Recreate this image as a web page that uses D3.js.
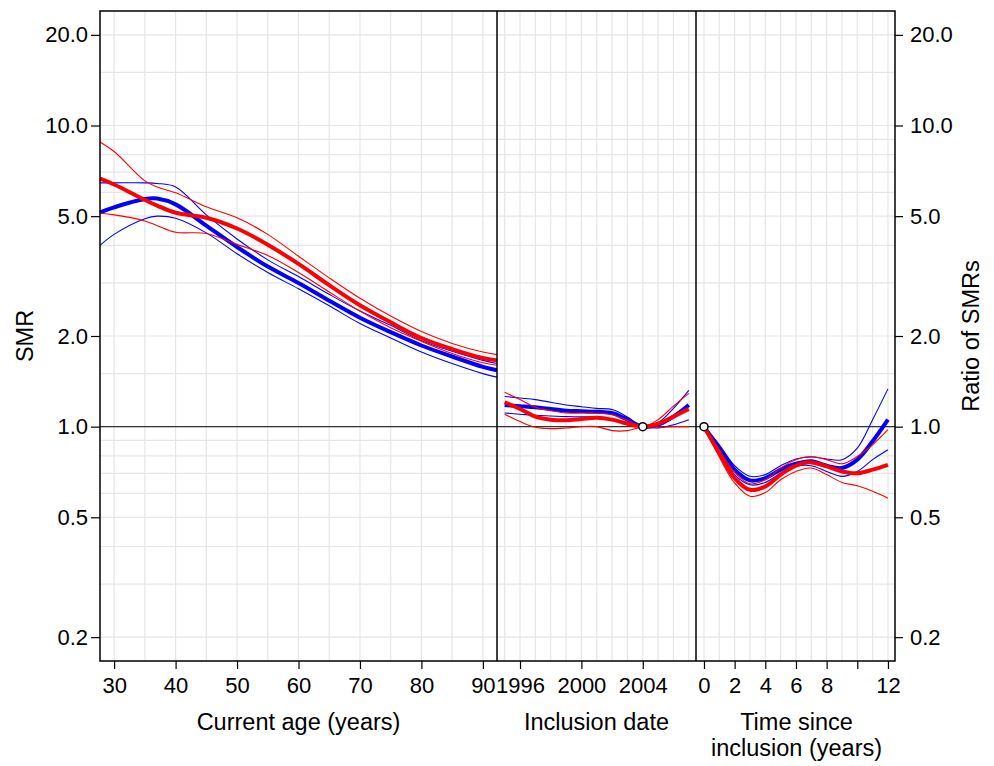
<!DOCTYPE html>
<html>
<head>
<meta charset="utf-8">
<script src="https://cdn.jsdelivr.net/npm/d3@7"></script>
<style>
  body { margin: 0; background: #fff; }
  svg text { font-family: "Liberation Sans", Arial, Helvetica, sans-serif; fill: #000; }
</style>
</head>
<body>
<div id="chart"></div>
<script>
// ---- DATA ----

// panel 1: current age
const ages        = [27.7, 30, 35, 37, 40, 45, 50, 55, 60, 65, 70, 75, 80, 85, 90, 92.3];
const ageBlueEst  = [5.15, 5.35, 5.70, 5.72, 5.47, 4.65, 3.95, 3.40, 3.00, 2.62, 2.30, 2.06, 1.86, 1.71, 1.58, 1.54];
const ageBlueHi   = [6.45, 6.45, 6.45, 6.42, 6.25, 5.05, 4.20, 3.58, 3.15, 2.75, 2.42, 2.17, 1.93, 1.78, 1.66, 1.62];
const ageBlueLo   = [4.00, 4.35, 4.90, 5.00, 4.92, 4.40, 3.75, 3.25, 2.87, 2.52, 2.20, 1.97, 1.77, 1.62, 1.50, 1.46];
const ageRedEst   = [6.66, 6.37, 5.66, 5.42, 5.13, 4.94, 4.55, 4.02, 3.47, 2.95, 2.53, 2.22, 1.97, 1.81, 1.69, 1.66];
const ageRedHi    = [8.82, 8.20, 6.55, 6.25, 5.98, 5.37, 4.94, 4.35, 3.68, 3.12, 2.67, 2.33, 2.07, 1.89, 1.77, 1.735];
const ageRedLo    = [5.11, 5.05, 4.82, 4.65, 4.42, 4.38, 4.03, 3.70, 3.25, 2.80, 2.42, 2.13, 1.92, 1.75, 1.63, 1.60];

// panel 2: inclusion date (reference year 2004)
const years        = [1995, 1996, 1997, 1998, 1999, 2000, 2001, 2002, 2003, 2004, 2005, 2006, 2007];
const dateBlueEst  = [1.18, 1.17, 1.16, 1.145, 1.13, 1.125, 1.12, 1.11, 1.055, 1.0, 1.015, 1.08, 1.18];
const dateBlueHi   = [1.26, 1.245, 1.23, 1.205, 1.18, 1.165, 1.15, 1.14, 1.077, 1.0, 1.03, 1.15, 1.32];
const dateBlueLo   = [1.11, 1.10, 1.09, 1.085, 1.08, 1.078, 1.077, 1.06, 1.03, 1.0, 0.99, 1.015, 1.055];
const dateRedEst   = [1.205, 1.145, 1.08, 1.055, 1.05, 1.06, 1.07, 1.055, 1.023, 1.0, 1.023, 1.08, 1.145];
const dateRedHi    = [1.30, 1.23, 1.16, 1.13, 1.11, 1.11, 1.11, 1.095, 1.05, 1.0, 1.055, 1.17, 1.29];
const dateRedLo    = [1.10, 1.04, 0.995, 0.985, 0.99, 1.0, 1.0, 0.97, 0.97, 1.0, 0.995, 1.0, 1.0];

// panel 3: time since inclusion (reference 0)
const times        = [0, 1, 2, 3, 4, 5, 6, 7, 8, 9, 10, 11, 12];
const timeBlueEst  = [1.0, 0.849, 0.72, 0.663, 0.675, 0.72, 0.753, 0.767, 0.742, 0.729, 0.777, 0.894, 1.055];
const timeBlueHi   = [1.0, 0.871, 0.742, 0.684, 0.693, 0.742, 0.781, 0.793, 0.781, 0.777, 0.849, 1.055, 1.335];
const timeBlueLo   = [1.0, 0.834, 0.693, 0.641, 0.653, 0.70, 0.738, 0.742, 0.71, 0.684, 0.71, 0.777, 0.838];
const timeRedEst   = [1.0, 0.818, 0.675, 0.617, 0.633, 0.693, 0.742, 0.761, 0.738, 0.71, 0.70, 0.72, 0.747];
const timeRedHi    = [1.0, 0.838, 0.705, 0.646, 0.666, 0.729, 0.777, 0.796, 0.777, 0.753, 0.796, 0.871, 0.977];
const timeRedLo    = [1.0, 0.793, 0.65, 0.587, 0.604, 0.666, 0.71, 0.729, 0.693, 0.653, 0.636, 0.61, 0.579];

// axes
const yTicks     = [0.2, 0.5, 1, 2, 5, 10, 20];
const yGrid      = [0.2, 0.3, 0.4, 0.5, 0.6, 0.7, 0.8, 0.9, 1, 1.5, 2, 3, 4, 5, 6, 7, 8, 9, 10, 15, 20];
const ageTicks   = [30, 40, 50, 60, 70, 80, 90];
const ageGrid    = [30, 35, 40, 45, 50, 55, 60, 65, 70, 75, 80, 85, 90];
const dateTicks  = [1996, 2000, 2004];
const dateGrid   = [1995, 1996, 1997, 1998, 1999, 2000, 2001, 2002, 2003, 2004, 2005, 2006, 2007];
const timeTicks  = [0, 2, 4, 6, 8, 10, 12];
const timeGrid   = [0, 1, 2, 3, 4, 5, 6, 7, 8, 9, 10, 11, 12];

// ---- LAYOUT ----
const width = 994, height = 766;
const plotL = 100, plotR = 895, plotT = 11, plotB = 661;
const split1 = 497, split2 = 696;

const svg = d3.select("#chart").append("svg")
    .attr("width", width)
    .attr("height", height);

const y = d3.scaleLog().domain([1 / 6, 24]).range([plotB, plotT]);
const xAge  = d3.scaleLinear().domain([27.7, 92.3]).range([plotL, split1]);
const xDate = d3.scaleLinear().domain([1994.5, 2007.47]).range([split1, split2]);
const xTime = d3.scaleLinear().domain([-0.52, 12.46]).range([split2, plotR]);

const gridColor = "#e6e6e6";

// ---- GRID ----
svg.append("g").selectAll("line")
    .data(yGrid)
    .join("line")
    .attr("x1", plotL).attr("x2", plotR)
    .attr("y1", d => y(d)).attr("y2", d => y(d))
    .attr("stroke", gridColor).attr("stroke-width", 1.2);

[[xAge, ageGrid], [xDate, dateGrid], [xTime, timeGrid]].forEach(([x, g]) => {
    svg.append("g").selectAll("line")
        .data(g)
        .join("line")
        .attr("x1", d => x(d)).attr("x2", d => x(d))
        .attr("y1", plotT).attr("y2", plotB)
        .attr("stroke", gridColor).attr("stroke-width", 1.2);
});

// reference line at 1.0
svg.append("line")
    .attr("x1", plotL).attr("x2", plotR)
    .attr("y1", y(1)).attr("y2", y(1))
    .attr("stroke", "#333").attr("stroke-width", 1.2);

// ---- CURVES ----
function drawSeries(x, xs, vals, color, w) {
    const line = d3.line()
        .x((d, i) => x(xs[i]))
        .y(d => y(d))
        .curve(d3.curveCatmullRom.alpha(0.5));
    svg.append("path")
        .datum(vals)
        .attr("d", line)
        .attr("fill", "none")
        .attr("stroke", color)
        .attr("stroke-width", w)
        .attr("stroke-linejoin", "round");
}

const panels = [
    [xAge, ages, ageBlueEst, ageBlueHi, ageBlueLo, ageRedEst, ageRedHi, ageRedLo],
    [xDate, years, dateBlueEst, dateBlueHi, dateBlueLo, dateRedEst, dateRedHi, dateRedLo],
    [xTime, times, timeBlueEst, timeBlueHi, timeBlueLo, timeRedEst, timeRedHi, timeRedLo]
];

panels.forEach(([x, xs, bE, bH, bL, rE, rH, rL]) => {
    drawSeries(x, xs, bH, "#0000ff", 1.1);
    drawSeries(x, xs, bL, "#0000ff", 1.1);
    drawSeries(x, xs, bE, "#0000ff", 4);
    drawSeries(x, xs, rH, "#ff0000", 1.1);
    drawSeries(x, xs, rL, "#ff0000", 1.1);
    drawSeries(x, xs, rE, "#ff0000", 4);
});

// reference points
svg.append("g").selectAll("circle")
    .data([[xDate, 2004], [xTime, 0]])
    .join("circle")
    .attr("cx", d => d[0](d[1])).attr("cy", y(1))
    .attr("r", 4)
    .attr("fill", "#fff")
    .attr("stroke", "#000")
    .attr("stroke-width", 1.5);

// ---- FRAME + SEPARATORS ----
svg.append("rect")
    .attr("x", plotL).attr("y", plotT)
    .attr("width", plotR - plotL).attr("height", plotB - plotT)
    .attr("fill", "none").attr("stroke", "#000").attr("stroke-width", 1.5);

[split1, split2].forEach(sx => {
    svg.append("line")
        .attr("x1", sx).attr("x2", sx)
        .attr("y1", plotT).attr("y2", plotB)
        .attr("stroke", "#000").attr("stroke-width", 1.5);
});

// ---- AXES ----
const tickFont = "22px";
const fmtY = d3.format(".1f");

function styleAxis(g) {
    g.select(".domain").remove();
    g.selectAll(".tick line").attr("stroke", "#000").attr("stroke-width", 1.2);
    g.selectAll(".tick text")
        .style("font-size", tickFont)
        .style("font-family", "'Liberation Sans', Arial, sans-serif")
        .attr("fill", "#000");
}

svg.append("g")
    .attr("transform", `translate(${plotL},0)`)
    .call(d3.axisLeft(y).tickValues(yTicks).tickFormat(fmtY).tickSize(9).tickPadding(3))
    .call(styleAxis);

svg.append("g")
    .attr("transform", `translate(${plotR},0)`)
    .call(d3.axisRight(y).tickValues(yTicks).tickFormat(fmtY).tickSize(8).tickPadding(7))
    .call(styleAxis);

svg.append("g")
    .attr("transform", `translate(0,${plotB})`)
    .call(d3.axisBottom(xAge).tickValues(ageTicks).tickSize(8).tickPadding(8))
    .call(styleAxis);

svg.append("g")
    .attr("transform", `translate(0,${plotB})`)
    .call(d3.axisBottom(xDate).tickValues(dateTicks).tickFormat(d3.format("d")).tickSize(8).tickPadding(8))
    .call(styleAxis);

svg.append("g")
    .attr("transform", `translate(0,${plotB})`)
    .call(d3.axisBottom(xTime).tickValues(timeTicks).tickFormat(d => d === 10 ? "" : d).tickSize(8).tickPadding(8))
    .call(styleAxis);

// ---- TITLES ----
const titleFont = "23.5px";

svg.append("text")
    .attr("x", (plotL + split1) / 2)
    .attr("y", 730)
    .attr("text-anchor", "middle")
    .style("font-size", titleFont)
    .text("Current age (years)");

svg.append("text")
    .attr("x", (split1 + split2) / 2)
    .attr("y", 730)
    .attr("text-anchor", "middle")
    .style("font-size", titleFont)
    .text("Inclusion date");

const t3x = (split2 + plotR) / 2 + 1;
const t3 = svg.append("text")
    .attr("text-anchor", "middle")
    .style("font-size", titleFont);
t3.append("tspan").attr("x", t3x).attr("y", 730).text("Time since");
t3.append("tspan").attr("x", t3x).attr("y", 756).text("inclusion (years)");

svg.append("text")
    .attr("transform", `translate(33,${(plotT + plotB) / 2}) rotate(-90)`)
    .attr("text-anchor", "middle")
    .style("font-size", titleFont)
    .text("SMR");

svg.append("text")
    .attr("transform", `translate(979,${(plotT + plotB) / 2}) rotate(-90)`)
    .attr("text-anchor", "middle")
    .style("font-size", titleFont)
    .text("Ratio of SMRs");
</script>
</body>
</html>
